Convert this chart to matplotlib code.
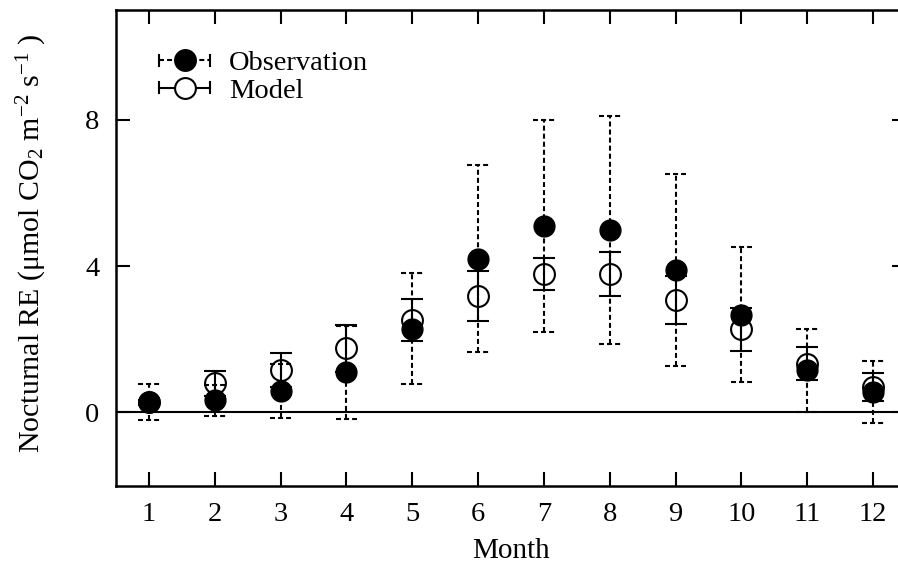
import matplotlib
matplotlib.use("Agg")
import matplotlib.pyplot as plt
from matplotlib.lines import Line2D
from matplotlib.legend_handler import HandlerBase
import numpy as np

# Monthly mean nocturnal ecosystem respiration with standard deviations
months = [1, 2, 3, 4, 5, 6, 7, 8, 9, 10, 11, 12]
month_labels = ["1", "2", "3", "4", "5", "6", "7", "8", "9", "10", "11", "12"]
obs_mean = [0.28, 0.33, 0.58, 1.10, 2.29, 4.20, 5.10, 4.99, 3.89, 2.67, 1.15, 0.56]
obs_sd = [0.50, 0.43, 0.73, 1.27, 1.51, 2.55, 2.90, 3.11, 2.63, 1.85, 1.13, 0.85]
model_mean = [0.27, 0.79, 1.15, 1.75, 2.52, 3.19, 3.79, 3.79, 3.07, 2.27, 1.33, 0.69]
model_sd = [0.08, 0.35, 0.47, 0.65, 0.58, 0.68, 0.44, 0.60, 0.65, 0.58, 0.45, 0.39]
y_ticks = [0, 4, 8]

plt.rcParams["font.family"] = ["Liberation Serif", "DejaVu Serif"]
plt.rcParams["mathtext.fontset"] = "custom"
plt.rcParams["mathtext.rm"] = "Liberation Serif"
plt.rcParams["mathtext.it"] = "Liberation Serif:italic"
plt.rcParams["mathtext.bf"] = "Liberation Serif:bold"
plt.rcParams["lines.scale_dashes"] = False

DASH = (0, (3.6, 2.2))
FS = 20.5
CAP = 0.165  # half-width of dashed caps, in months

fig = plt.figure(figsize=(8.98, 5.68), dpi=100)
ax = fig.add_axes([116 / 898, 82.5 / 568, 790 / 898, 475.5 / 568])

x = np.array(months, dtype=float)
om = np.array(obs_mean)
osd = np.array(obs_sd)
mm = np.array(model_mean)
msd = np.array(model_sd)

# zero reference line
ax.axhline(0, color="black", lw=1.5, zorder=1)

# model: open circles with solid error bars
ax.errorbar(x, mm, yerr=msd, fmt="o", ms=15, mfc="none", mec="black",
            mew=1.5, ecolor="black", elinewidth=1.5, capsize=7.9,
            capthick=1.5, zorder=3)

# observation: filled circles with dashed error bars and dashed caps
ax.vlines(x, om - osd, om + osd, colors="black", linestyles=[DASH],
          lw=1.5, zorder=2)
ax.hlines(np.concatenate([om - osd, om + osd]),
          np.concatenate([x - CAP, x - CAP]),
          np.concatenate([x + CAP, x + CAP]),
          colors="black", linestyles=[DASH], lw=1.5, zorder=2)
ax.plot(x, om, "o", ms=15, mfc="black", mec="black", zorder=4)

ax.set_xlim(0.5, 12.5)
ax.set_ylim(-2, 11)
ax.set_xticks(months)
ax.set_xticklabels(month_labels)
ax.set_yticks(y_ticks)
ax.tick_params(axis="both", direction="in", length=10, width=1.5,
               labelsize=FS, top=True, right=True)
ax.tick_params(axis="x", pad=12)
ax.tick_params(axis="y", pad=12)
for s in ax.spines.values():
    s.set_linewidth(1.8)

ax.set_xlabel("Month", fontsize=FS + 0.5, labelpad=7.5)
ax.set_ylabel(r"Nocturnal RE ($\mathrm{\mu}$mol CO$_2$ m$^{-2}$ s$^{-1}$$\ $)",
              fontsize=21.5)
ax.yaxis.set_label_coords(-0.085, 0.51)


class ErrorbarKey(HandlerBase):
    """Horizontal line with end caps and a centred circle marker."""

    def __init__(self, dashed, filled):
        super().__init__()
        self.dashed = dashed
        self.filled = filled

    def create_artists(self, legend, orig_handle, xdescent, ydescent,
                       width, height, fontsize, trans):
        y = height / 2 - ydescent
        x0, x1 = -xdescent, width - xdescent
        ls = DASH if self.dashed else "-"
        c = 4.0
        arts = [
            Line2D([x0, x1], [y, y], color="black", lw=1.5, ls=ls,
                   transform=trans),
            Line2D([x0, x0], [y - c, y + c], color="black", lw=1.5,
                   transform=trans),
            Line2D([x1, x1], [y - c, y + c], color="black", lw=1.5,
                   transform=trans),
            Line2D([(x0 + x1) / 2], [y], marker="o", ms=15,
                   mfc="black" if self.filled else "white",
                   mec="black", mew=1.5, ls="none", transform=trans),
        ]
        return arts


h_obs = Line2D([], [])
h_mod = Line2D([], [])
leg = ax.legend([h_obs, h_mod], ["Observation", "Model"],
                handler_map={h_obs: ErrorbarKey(True, True),
                             h_mod: ErrorbarKey(False, False)},
                loc="upper left", bbox_to_anchor=(43 / 790, 0.915),
                frameon=False, fontsize=FS, borderpad=0, borderaxespad=0,
                handlelength=1.8, handletextpad=0.65, labelspacing=0.05)

fig.savefig("out.png", dpi=100)
